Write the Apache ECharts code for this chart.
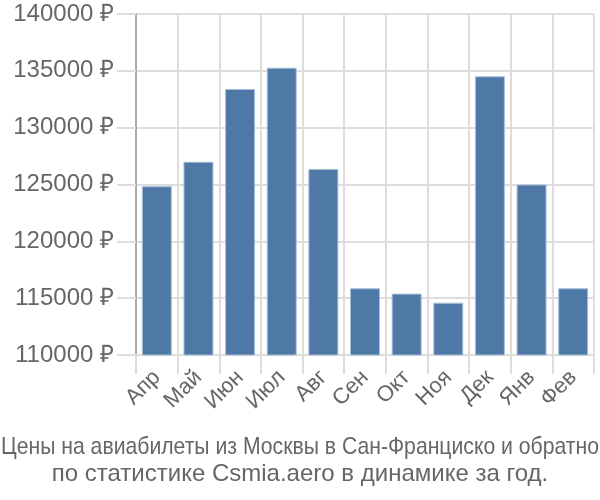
<!DOCTYPE html>
<html><head><meta charset="utf-8">
<script src="https://cdn.jsdelivr.net/npm/echarts@6/dist/echarts.min.js"></script>
<style>html,body{margin:0;padding:0;background:#fff}#c{width:600px;height:500px}</style>
</head><body><div id="c"></div>
<script>
const categories = ['Апр','Май','Июн','Июл','Авг','Сен','Окт','Ноя','Дек','Янв','Фев'];
const prices = [124850, 127000, 133400, 135280, 126370, 115870, 115400, 114600, 134520, 125000, 115870];
const titleLines = ['Цены на авиабилеты из Москвы в Сан-Франциско и обратно', 'по статистике Csmia.aero в динамике за год.'];

const font = '"Liberation Sans", Arial, sans-serif';
const titleFont = '24px ' + font;
const ctx = document.createElement('canvas').getContext('2d');
ctx.font = titleFont;
const w1 = ctx.measureText(titleLines[0]).width;
const s1 = Math.min(1, 598 / w1);

const chart = echarts.init(document.getElementById('c'));
chart.setOption({
  animation: false,
  graphic: [
    {type: 'text', x: 300, y: 447, scaleX: s1, silent: true,
     style: {text: titleLines[0], font: titleFont, fill: '#666', align: 'center', verticalAlign: 'middle'}},
    {type: 'text', x: 300, y: 474, silent: true,
     style: {text: titleLines[1], font: titleFont, fill: '#666', align: 'center', verticalAlign: 'middle'}}
  ],
  grid: {left: 136, right: 6, top: 14, bottom: 145, containLabel: false},
  xAxis: {
    type: 'category', data: categories,
    axisLine: {show: true, lineStyle: {color: '#ddd', width: 2}},
    axisTick: {show: true, length: 19, alignWithLabel: false, lineStyle: {color: '#ddd', width: 2}},
    splitLine: {show: true, lineStyle: {color: '#ddd', width: 2}},
    axisLabel: {rotate: 45, color: '#666', fontSize: 22, fontFamily: font, margin: 19}
  },
  yAxis: {
    type: 'value', min: 110000, max: 140000, interval: 5000,
    axisLine: {show: true, lineStyle: {color: '#aaa', width: 2}},
    axisTick: {show: true, length: 19, lineStyle: {color: '#ddd', width: 2}},
    splitLine: {show: true, lineStyle: {color: '#ddd', width: 2}},
    axisLabel: {color: '#666', fontSize: 24, fontFamily: font, margin: 22, formatter: v => v + ' ₽'}
  },
  series: [{
    type: 'bar', data: prices, barWidth: '72%',
    itemStyle: {color: '#4e79a7', borderColor: '#a9bfd8', borderWidth: 1}
  }]
});
</script></body></html>
